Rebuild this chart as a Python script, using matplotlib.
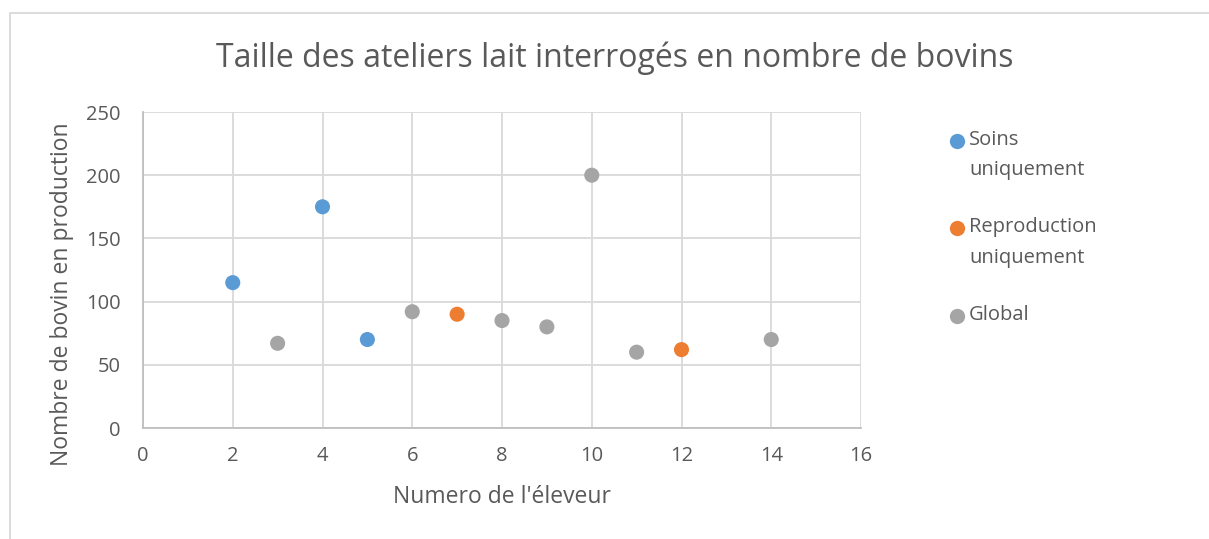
import matplotlib.pyplot as plt
from matplotlib.lines import Line2D

plt.rcParams["font.family"] = ["Open Sans", "DejaVu Sans"]

TEXT = "#595959"
GRID = "#d9d9d9"

soins_x = [2, 4, 5]
soins_y = [115, 175, 70]
repro_x = [7, 12]
repro_y = [90, 62]
global_x = [3, 6, 8, 9, 10, 11, 14]
global_y = [67, 92, 85, 80, 200, 60, 70]

series = [
    ("Soins\nuniquement", soins_x, soins_y, "#5B9BD5"),
    ("Reproduction\nuniquement", repro_x, repro_y, "#ED7D31"),
    ("Global", global_x, global_y, "#A5A5A5"),
]

fig = plt.figure(figsize=(12.09, 5.39), dpi=100)
ax = fig.add_axes([143 / 1209, 1 - 428 / 539, 718 / 1209, 316 / 539])

for label, xs, ys, color in series:
    ax.scatter(xs, ys, s=118, color=color, edgecolors="none", zorder=3)

ax.set_xlim(0, 16)
ax.set_ylim(0, 250)
ax.set_xticks(range(0, 17, 2))
ax.set_yticks(range(0, 251, 50))
ax.grid(True, color=GRID, linewidth=1.3)
ax.set_axisbelow(True)
for side in ["top", "right"]:
    ax.spines[side].set_visible(False)
for side in ["left", "bottom"]:
    ax.spines[side].set_color("#bfbfbf")
    ax.spines[side].set_linewidth(1.3)
ax.tick_params(length=0, labelsize=14.5, colors=TEXT)
ax.tick_params(axis="x", pad=13)
ax.tick_params(axis="y", pad=16)

ax.set_xlabel("Numero de l'éleveur", fontsize=16.5, color=TEXT, va="center")
ax.xaxis.set_label_coords(0.5, (428 - 497) / 316)
ax.set_ylabel("Nombre de bovin en production", fontsize=16.5, color=TEXT, va="center")
ax.yaxis.set_label_coords((62 - 143) / 718, (428 - 294) / 316)
fig.text(615 / 1209, 1 - 58 / 539, "Taille des ateliers lait interrogés en nombre de bovins",
         ha="center", va="center", fontsize=23, color=TEXT)

# legend drawn by hand so the marker sits on the first text line
leg_y = [141, 228, 316]
for (label, xs, ys, color), y in zip(series, leg_y):
    fig.add_artist(Line2D([957 / 1209], [1 - y / 539], marker="o", markersize=11,
                          color=color, markeredgecolor="none", transform=fig.transFigure))
    fig.text(969 / 1209, 1 - (y - 11) / 539, label, ha="left", va="top",
             fontsize=14.5, color=TEXT, linespacing=1.7)

# chart border
fig.add_artist(Line2D([10 / 1209, 10 / 1209, 1], [0, 1 - 13 / 539, 1 - 13 / 539],
                      color=GRID, linewidth=1.3, transform=fig.transFigure))

fig.savefig("out.png", dpi=100)
